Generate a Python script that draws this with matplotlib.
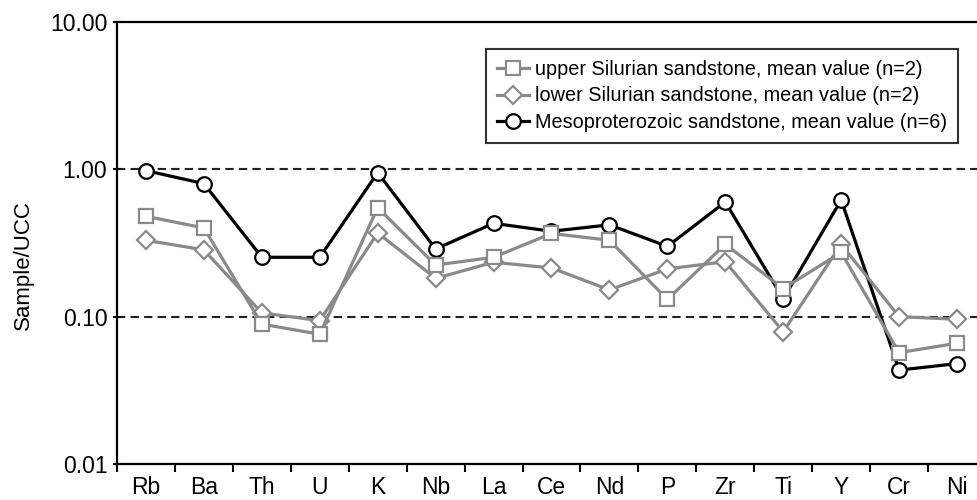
import matplotlib
matplotlib.use("Agg")
import matplotlib.pyplot as plt
from matplotlib.ticker import FixedLocator, FuncFormatter, NullLocator

plt.rcParams['font.family'] = ['Liberation Sans', 'DejaVu Sans']

# element order along the x axis
elements = ['Rb', 'Ba', 'Th', 'U', 'K', 'Nb', 'La', 'Ce', 'Nd', 'P', 'Zr', 'Ti', 'Y', 'Cr', 'Ni']

# mean values normalised to upper continental crust
upper_silurian = [0.48, 0.40, 0.089, 0.076, 0.55, 0.224, 0.253, 0.367, 0.33, 0.131, 0.31, 0.155, 0.273, 0.057, 0.066]
lower_silurian = [0.33, 0.284, 0.106, 0.094, 0.37, 0.182, 0.234, 0.214, 0.152, 0.211, 0.236, 0.079, 0.31, 0.10, 0.096]
mesoproterozoic = [0.98, 0.80, 0.253, 0.253, 0.95, 0.288, 0.43, 0.38, 0.42, 0.30, 0.60, 0.132, 0.62, 0.0434, 0.048]

labels = ['upper Silurian sandstone, mean value (n=2)',
          'lower Silurian sandstone, mean value (n=2)',
          'Mesoproterozoic sandstone, mean value (n=6)']

fig = plt.figure(figsize=(9.77, 5.0), dpi=100)
ax = fig.add_axes([117 / 977, 36 / 500, 869 / 977, 442 / 500])

x = list(range(len(elements)))
gray = '#8a8a8a'

# draw order: black first, then diamonds, squares on top
l_meso, = ax.plot(x, mesoproterozoic, '-o', color='black', lw=2.3, ms=10.5,
                  mfc='white', mec='black', mew=1.6, zorder=3)
l_low, = ax.plot(x, lower_silurian, '-D', color=gray, lw=2.3, ms=9.5,
                 mfc='white', mec=gray, mew=1.6, zorder=4)
l_up, = ax.plot(x, upper_silurian, '-s', color=gray, lw=2.3, ms=10.5,
                mfc='white', mec=gray, mew=1.6, zorder=5)

ax.set_yscale('log')
ax.set_ylim(0.01, 10)
ax.set_xlim(-0.5, len(elements) - 0.5)

# dashed reference lines
for yv in [0.1, 1.0]:
    ax.axhline(yv, color='#222222', lw=1.5, ls=(0, (4, 2.5)), zorder=1)

ax.yaxis.set_major_locator(FixedLocator([0.01, 0.1, 1, 10]))
ax.yaxis.set_minor_locator(NullLocator())
ax.yaxis.set_major_formatter(FuncFormatter(lambda v, p: '%.2f' % v))

# ticks between categories, labels centred on categories
ax.set_xticks([i - 0.5 for i in x])
ax.set_xticklabels([])
ax.set_xticks(x, minor=True)
ax.set_xticklabels(elements, minor=True)
ax.tick_params(axis='x', which='minor', length=0, labelsize=16.5, pad=9)
ax.tick_params(axis='x', which='major', length=6, width=1.5, direction='out')
ax.tick_params(axis='y', which='major', length=6, width=1.5, direction='inout',
               labelsize=16.5, pad=4)

for side in ['left', 'bottom', 'top']:
    ax.spines[side].set_linewidth(1.6)
ax.spines['right'].set_visible(False)

ax.set_ylabel('Sample/UCC', fontsize=16, labelpad=16)
ax.yaxis.set_label_coords(-0.095, 0.45)

leg = ax.legend([l_up, l_low, l_meso], labels, loc='upper left',
                bbox_to_anchor=(486 / 977, 1 - 49 / 500), bbox_transform=fig.transFigure,
                fontsize=14.3, frameon=True, fancybox=False, handlelength=1.6,
                handletextpad=0.3, labelspacing=0.38, borderpad=0.55, borderaxespad=0)
leg.get_frame().set_edgecolor('black')
leg.get_frame().set_linewidth(1.5)

fig.savefig('out.png', dpi=100)
